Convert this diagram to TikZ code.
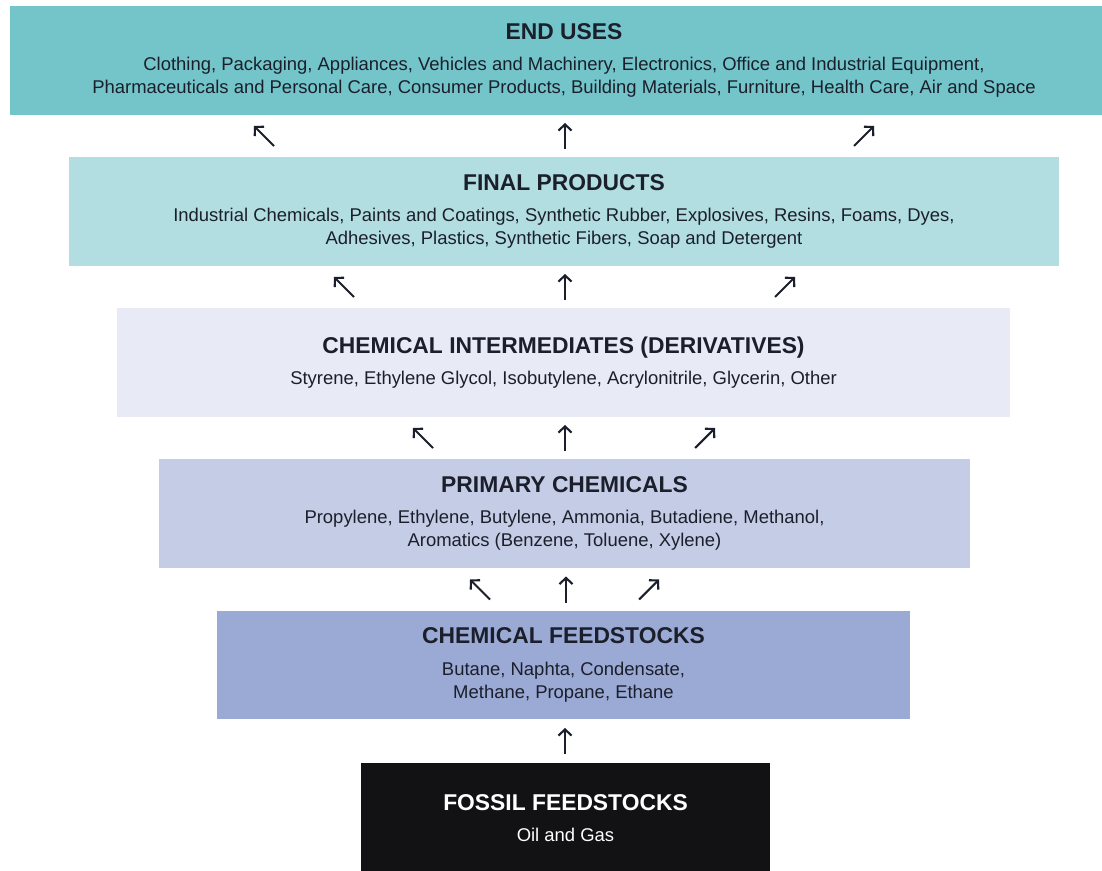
\documentclass[tikz,border=0pt]{standalone}
\usepackage{fontspec}
\setmainfont{Liberation Sans}
\usepackage{tikz}
\usetikzlibrary{arrows,arrows.meta,shapes}
\definecolor{enduse}{RGB}{115,197,202}
\definecolor{finalprod}{RGB}{178,222,226}
\definecolor{interm}{RGB}{232,234,246}
\definecolor{primary}{RGB}{197,204,230}
\definecolor{feed}{RGB}{155,169,213}
\definecolor{fossil}{RGB}{18,18,20}
\definecolor{inkdark}{RGB}{27,31,43}
\tikzstyle{layer}=[rectangle,inner sep=0pt,align=center,text=inkdark,minimum height=2.18cm,font=\fontsize{10.5}{13}\selectfont]
\tikzstyle{edge}=[draw,line width=1.2pt,-{Straight Barb[length=3.5pt,width=7.5pt]}]
\newcommand{\heading}[1]{{\fontsize{13}{15}\selectfont\bfseries #1}\\[5pt]}

\begin{document}
\begin{tikzpicture}[x=0.02cm,y=-0.02cm]
    \useasboundingbox (0,0) rectangle (1102,871);
    \fill[white] (0,0) rectangle (1102,871);
    \clip (0,0) rectangle (1102,871);
    % The layers, from the end uses down to the fossil feedstocks
    \node[layer, fill=enduse, minimum width=22.16cm] (enduses) at (564,60.5)
        {\heading{END USES}Clothing, Packaging, Appliances, Vehicles and Machinery, Electronics, Office and Industrial Equipment,\\
         Pharmaceuticals and Personal Care, Consumer Products, Building Materials, Furniture, Health Care, Air and Space};
    \node[layer, fill=finalprod, minimum width=19.8cm] (final) at (564,211.5)
        {\heading{FINAL PRODUCTS}Industrial Chemicals, Paints and Coatings, Synthetic Rubber, Explosives, Resins, Foams, Dyes,\\
         Adhesives, Plastics, Synthetic Fibers, Soap and Detergent};
    \node[layer, fill=interm, minimum width=17.86cm] (interm) at (563.5,362.5)
        {\heading{CHEMICAL INTERMEDIATES (DERIVATIVES)}Styrene, Ethylene Glycol, Isobutylene, Acrylonitrile, Glycerin, Other};
    \node[layer, fill=primary, minimum width=16.22cm] (primary) at (564.5,513.5)
        {\heading{PRIMARY CHEMICALS}Propylene, Ethylene, Butylene, Ammonia, Butadiene, Methanol,\\
         Aromatics (Benzene, Toluene, Xylene)};
    \node[layer, fill=feed, minimum width=13.86cm] (chemfeed) at (563.5,665)
        {\heading{CHEMICAL FEEDSTOCKS}Butane, Naphta, Condensate,\\ Methane, Propane, Ethane};
    \node[layer, fill=fossil, text=white, minimum width=8.18cm, minimum height=2.2cm] (fossil) at (565.5,818)
        {\heading{FOSSIL FEEDSTOCKS}Oil and Gas};

    % Arrows in the gaps: x, y, direction (-1 left, 0 up, 1 right)
    \foreach \x/\y/\d/\name in {264/136/-1/a1, 565/136/0/a2, 864/136/1/a3,
                                344/287/-1/b1, 565/287/0/b2, 785/287/1/b3,
                                423/438/-1/c1, 565/438/0/c2, 705/438/1/c3,
                                480/589.5/-1/d1, 566/589.5/0/d2, 649/589.5/1/d3,
                                565/741/0/e1}
    {
        \coordinate (\name-s) at ({\x-\d*10},{\y+10+3*(1-abs(\d))});
        \coordinate (\name-e) at ({\x+\d*10},{\y-10-3*(1-abs(\d))});
        \path[edge, inkdark] (\name-s) -- (\name-e);
    }
\end{tikzpicture}
\end{document}
